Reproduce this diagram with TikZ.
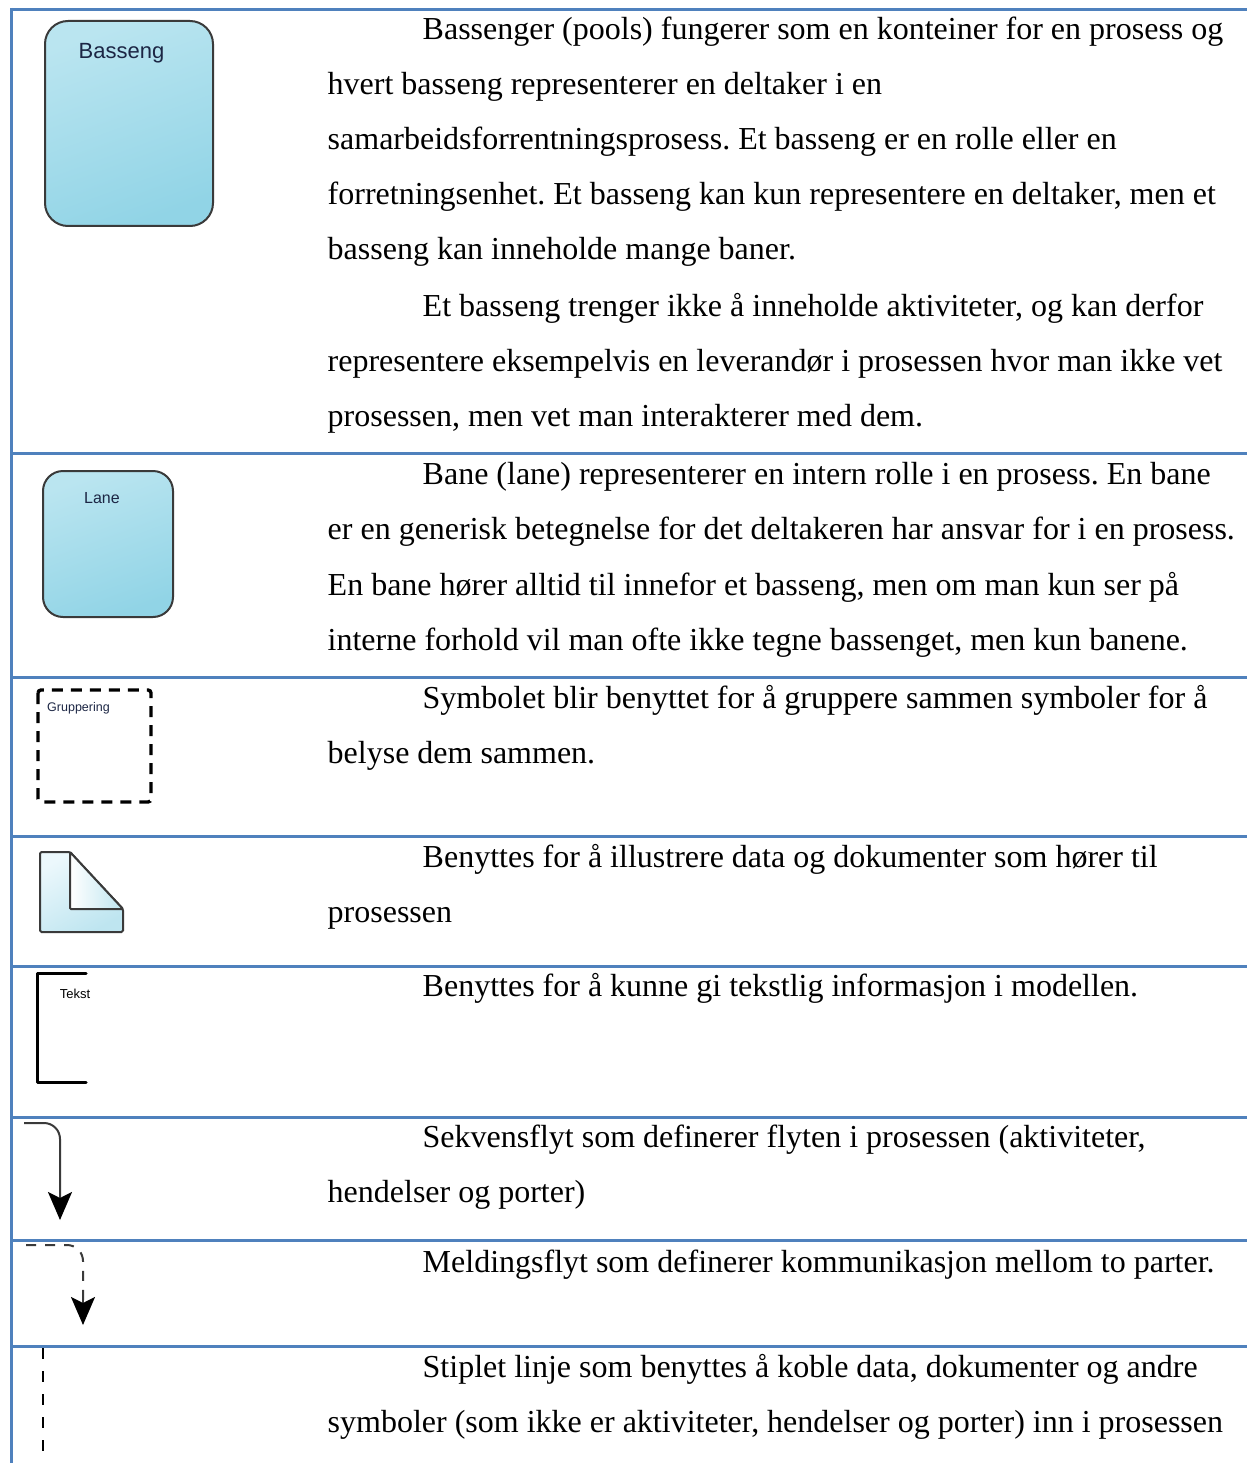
\documentclass[tikz,border=0pt]{standalone}
\usepackage{fontspec}
\setmainfont{Liberation Serif}
\newfontfamily\iconfont{Liberation Sans}
\usetikzlibrary{arrows.meta}
\definecolor{rulecol}{RGB}{79,129,189}
\definecolor{poolA}{RGB}{186,229,240}
\definecolor{poolB}{RGB}{145,212,230}
\definecolor{docA}{RGB}{236,248,252}
\definecolor{docB}{RGB}{190,229,240}
\definecolor{edgecol}{RGB}{58,58,58}
\definecolor{labelink}{RGB}{28,38,68}
\frenchspacing
\begin{document}
\begin{tikzpicture}[x=1pt,y=-1pt,
  gridline/.style={draw=rulecol, line width=3pt},
  para/.style={anchor=base west, inner sep=0pt, font=\fontsize{32}{38}\selectfont},
  poolbox/.style={draw=edgecol, line width=2pt, top color=poolA, bottom color=poolB, shading angle=20},
  iconlabel/.style={anchor=base, inner sep=0pt, text=labelink},
  flowline/.style={draw=edgecol, line width=2pt, rounded corners=16pt},
  flowtip/.style={-{Stealth[length=28pt, width=24pt, inset=6pt, black]}}
]
\useasboundingbox (0,0) rectangle (1247,1463);

% table rules
\draw[gridline] (11.3,8) -- (11.3,1463);
\foreach \y in {9.5,453.5,677,836.5,966,1117,1240.5,1346}
  \draw[gridline] (10,\y) -- (1247,\y);

% --- pool ---
\shade[poolbox, rounded corners=23pt] (45,21) rectangle (213,226);
\node[iconlabel, font=\iconfont\fontsize{22}{26}\selectfont] (poolname) at (121.5,59) {Basseng};

\node[para] (p1a) at (422.5,40) {Bassenger (pools) fungerer som en konteiner for en prosess og};
\node[para] (p1b) at (327.5,95) {hvert basseng representerer en deltaker i en};
\node[para] (p1c) at (327.5,150) {samarbeidsforrentningsprosess. Et basseng er en rolle eller en};
\node[para] (p1d) at (327.5,204.5) {forretningsenhet. Et basseng kan kun representere en deltaker, men et};
\node[para] (p1e) at (327.5,259.5) {basseng kan inneholde mange baner.};
\node[para] (p1f) at (422.5,316.5) {Et basseng trenger ikke å inneholde aktiviteter, og kan derfor};
\node[para] (p1g) at (327.5,371.5) {representere eksempelvis en leverandør i prosessen hvor man ikke vet};
\node[para] (p1h) at (327.5,426.5) {prosessen, men vet man interakterer med dem.};

% --- lane ---
\shade[poolbox, rounded corners=20pt] (43,471) rectangle (173,617);
\node[iconlabel, font=\iconfont\fontsize{16}{19}\selectfont] (lanename) at (102,503) {Lane};

\node[para] (p2a) at (422.5,484) {Bane (lane) representerer en intern rolle i en prosess. En bane};
\node[para] (p2b) at (327.5,539.5) {er en generisk betegnelse for det deltakeren har ansvar for i en prosess.};
\node[para] (p2c) at (327.5,595) {En bane hører alltid til innefor et basseng, men om man kun ser på};
\node[para] (p2d) at (327.5,650) {interne forhold vil man ofte ikke tegne bassenget, men kun banene.};

% --- group ---
\draw[black, line width=3.4pt, dash pattern=on 11pt off 8pt, rounded corners=3pt] (38,690) rectangle (151,802);
\node[iconlabel, font=\iconfont\fontsize{12.5}{15}\selectfont] (groupname) at (78.5,711) {Gruppering};

\node[para] (p3a) at (422.5,708) {Symbolet blir benyttet for å gruppere sammen symboler for å};
\node[para] (p3b) at (327.5,763) {belyse dem sammen.};

% --- data object ---
\shade[draw=edgecol, line width=2pt, rounded corners=1.5pt, top color=docA, bottom color=docB, shading angle=30]
  (40,852) -- (70,852) -- (123,909) -- (123,932) -- (40,932) -- cycle;
\shade[draw=edgecol, line width=2pt, rounded corners=1pt, left color=white, right color=docB]
  (70,852) -- (123,909) -- (70,909) -- cycle;

\node[para] (p4a) at (422.5,867) {Benyttes for å illustrere data og dokumenter som hører til};
\node[para] (p4b) at (327.5,922.5) {prosessen};

% --- text annotation ---
\draw[black, line width=3.2pt, line cap=round, line join=round] (86,973.5) -- (37.5,973.5) -- (37.5,1082.5) -- (86,1082.5);
\node[iconlabel, text=black, font=\iconfont\fontsize{13}{15}\selectfont] (notename) at (75,998) {Tekst};

\node[para] (p5a) at (422.5,996) {Benyttes for å kunne gi tekstlig informasjon i modellen.};

% --- sequence flow ---
\coordinate (seqA) at (24,1123);
\coordinate (seqK) at (60,1123);
\coordinate (seqB) at (60,1220);
\draw[flowline, flowtip] (seqA) -- (seqK) -- (seqB);

\node[para] (p6a) at (422.5,1147) {Sekvensflyt som definerer flyten i prosessen (aktiviteter,};
\node[para] (p6b) at (327.5,1202) {hendelser og porter)};

% --- message flow ---
\coordinate (msgA) at (24,1245);
\coordinate (msgK) at (83,1245);
\coordinate (msgM) at (83,1302);
\coordinate (msgT) at (83,1296);
\coordinate (msgB) at (83,1325);
\draw[flowline, dash pattern=on 10pt off 9pt, dash phase=17pt] (msgA) -- (msgK) -- (msgM);
\draw[draw=edgecol, line width=2pt, flowtip] (msgT) -- (msgB);

\node[para] (p7a) at (422.5,1272) {Meldingsflyt som definerer kommunikasjon mellom to parter.};

% --- association ---
\coordinate (asA) at (43,1348);
\coordinate (asB) at (43,1452);
\draw[black, line width=2pt, dash pattern=on 11pt off 12pt] (asA) -- (asB);

\node[para] (p8a) at (422.5,1377) {Stiplet linje som benyttes å koble data, dokumenter og andre};
\node[para] (p8b) at (327.5,1432) {symboler (som ikke er aktiviteter, hendelser og porter) inn i prosessen};
\end{tikzpicture}
\end{document}
